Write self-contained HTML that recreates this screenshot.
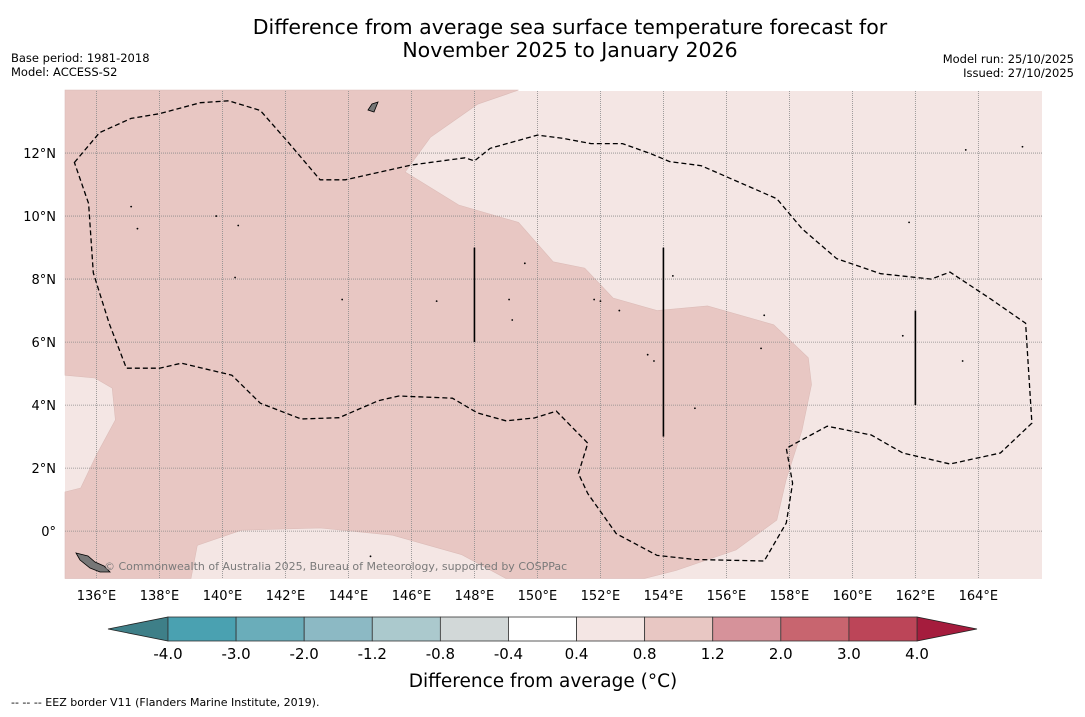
<!DOCTYPE html>
<html><head><meta charset="utf-8"><style>
body{margin:0;background:#fff;width:1085px;height:713px;overflow:hidden;font-family:"DejaVu Sans","Liberation Sans",sans-serif}
</style></head><body>
<svg id="chart" width="1085" height="713" xmlns="http://www.w3.org/2000/svg" font-family="DejaVu Sans, Liberation Sans, sans-serif">
<text x="570" y="34" font-size="20.5" text-anchor="middle">Difference from average sea surface temperature forecast for</text>
<text x="570" y="57" font-size="20.5" text-anchor="middle">November 2025 to January 2026</text>
<text x="11" y="62" font-size="11.5">Base period: 1981-2018</text>
<text x="11" y="76" font-size="11.5">Model: ACCESS-S2</text>
<text x="1074" y="63" font-size="11.5" text-anchor="end">Model run: 25/10/2025</text>
<text x="1074" y="77" font-size="11.5" text-anchor="end">Issued: 27/10/2025</text>
<g id="map"></g>
<g id="cbar"></g>
<text x="543" y="687" font-size="18.5" text-anchor="middle">Difference from average (°C)</text>
<text x="11" y="706" font-size="11">--  --  -- EEZ border V11 (Flanders Marine Institute, 2019).</text>
</svg>
<script>
const lonTicks=[136,138,140,142,144,146,148,150,152,154,156,158,160,162,164];
const latTicks=[0,2,4,6,8,10,12];
const levels=[-4.0,-3.0,-2.0,-1.2,-0.8,-0.4,0.4,0.8,1.2,2.0,3.0,4.0];
const levelColors=["#4aa1b1","#6aadba","#8cb9c4","#abc9cd","#d2d8d8","#ffffff","#f4e6e4","#e8c7c3","#d6929a","#c8656f","#bc4558"];
const lowExtendColor="#3e7f88", highExtendColor="#a51c3d";
const warmRegion=[[135,14],[149.4,14],[148.1,13.55],[146.6,12.5],[145.8,11.4],[147.5,10.35],[149.4,9.8],[150.5,8.55],[151.5,8.35],[152.4,7.4],[153.8,7.0],[155.4,7.15],[157.5,6.55],[158.6,5.5],[158.7,4.65],[158.4,3.2],[157.9,1.65],[157.6,0.35],[156.3,-0.6],[154.4,-1.25],[153.4,-1.5],[149,-1.5],[147.6,-0.75],[145.4,-0.13],[143.1,0.1],[140.6,0.03],[139.2,-0.45],[139,-1.5],[135,-1.5],[135,1.24],[135.5,1.37],[136,2.42],[136.6,3.53],[136.5,4.54],[135.95,4.86],[135,4.95]];
const eez=[[135.3,11.7],[136.1,12.65],[137.1,13.1],[138,13.25],[139.3,13.6],[140.2,13.66],[141.2,13.35],[142.1,12.33],[143.1,11.15],[143.9,11.15],[146,11.62],[147.7,11.85],[148,11.75],[148.5,12.15],[150,12.57],[150.8,12.47],[151.7,12.3],[152.7,12.3],[153.6,11.98],[154.2,11.73],[155.2,11.6],[156.5,11.03],[157.6,10.55],[158.4,9.6],[159.5,8.65],[160.9,8.17],[162.5,8.0],[163.1,8.22],[164.4,7.36],[165.5,6.6],[165.7,3.43],[164.7,2.48],[163.1,2.13],[161.6,2.48],[160.6,3.05],[159.2,3.33],[157.9,2.63],[158.1,1.52],[157.9,0.26],[157.2,-0.95],[155,-0.9],[153.8,-0.77],[152.5,-0.08],[151.6,1.19],[151.3,1.83],[151.6,2.79],[150.6,3.81],[149.9,3.59],[149,3.5],[148.1,3.75],[147.3,4.22],[145.6,4.29],[144.95,4.14],[143.7,3.6],[142.5,3.56],[141.2,4.06],[140.3,4.95],[138.7,5.33],[138,5.17],[136.95,5.17],[136.4,6.6],[135.9,8.2],[135.75,10.4]];
const islandPts=[[137.3,9.6],[139.8,10.0],[140.5,9.7],[140.4,8.05],[143.8,7.35],[146.8,7.3],[149.1,7.35],[149.6,8.5],[149.2,6.7],[151.8,7.35],[152,7.3],[152.6,7.0],[153.5,5.6],[153.7,5.4],[154.3,8.1],[157.2,6.85],[161.8,9.8],[161.6,6.2],[163.5,5.4],[163.6,12.1],[165.4,12.2],[157.1,5.8],[155,3.9],[144.7,-0.8],[137.1,10.3]];
const zeroLines=[[148,6,9],[154,3,9],[162,4,7]];
const lon0=135,lon1=166.02,lat0=-1.52,lat1=13.97;
const X0=65,X1=1042,Y0=91,Y1=579;
const xs=l=>X0+(l-lon0)/(lon1-lon0)*(X1-X0);
const ys=l=>Y1-(l-lat0)/(lat1-lat0)*(Y1-Y0);
const NS="http://www.w3.org/2000/svg";
function mk(t,p,a){const e=document.createElementNS(NS,t);for(const k in a)e.setAttribute(k,a[k]);p.appendChild(e);return e;}
const map=document.getElementById('map');
const bg=mk('rect',map,{x:X0,y:Y0,width:X1-X0,height:Y1-Y0,fill:levelColors[6]});


const pts=a=>a.map(p=>xs(p[0]).toFixed(1)+','+ys(p[1]).toFixed(1)).join(' ');
const wr=mk('polygon',map,{points:pts(warmRegion),fill:levelColors[7],stroke:"#dcbcb8","stroke-width":0.6});


lonTicks.forEach(l=>{
 const g=mk('line',map,{x1:xs(l),x2:xs(l),y1:Y0,y2:Y1,stroke:"#8a8a8a","stroke-width":0.8,"stroke-dasharray":"1,1"});
 
 
 const t=mk('text',map,{x:xs(l),y:600,"font-size":13,"text-anchor":"middle"});t.textContent=l+'°E';
 
 
});
latTicks.forEach(l=>{
 const g=mk('line',map,{x1:X0,x2:X1,y1:ys(l),y2:ys(l),stroke:"#8a8a8a","stroke-width":0.8,"stroke-dasharray":"1,1"});
 
 
 const t=mk('text',map,{x:56,y:ys(l)+5,"font-size":13,"text-anchor":"end"});t.textContent=l===0?'0°':l+'°N';
 
 
});
const ez=mk('polygon',map,{points:pts(eez),fill:"none",stroke:"#000","stroke-width":1.3,"stroke-dasharray":"5,3"});


zeroLines.forEach(z=>{const l=mk('line',map,{x1:xs(z[0]),x2:xs(z[0]),y1:ys(z[2]),y2:ys(z[1]),stroke:"#000","stroke-width":1.6});
 
 });
islandPts.forEach(p=>{const c=mk('circle',map,{cx:xs(p[0]),cy:ys(p[1]),r:0.9,fill:"#000"});
 
 });
const ng=mk('polygon',map,{points:"76,553 88,556 95,562 104,566 110,572 100,572 90,568 80,560",fill:"#777",stroke:"#000","stroke-width":0.8});


const ng2=mk('polygon',map,{points:"368,110 372,104 378,102 374,112",fill:"#777",stroke:"#000","stroke-width":0.8});


const cp=mk('text',map,{x:104,y:570,"font-size":11,fill:"#7a7a7a"});cp.textContent='© Commonwealth of Australia 2025, Bureau of Meteorology, supported by COSPPac';


const cb=document.getElementById('cbar');
const CB0=168,CB1=917,CY=617,CH=24,n=levelColors.length,w=(CB1-CB0)/n;
const lt=mk('polygon',cb,{points:`${CB0},${CY} ${CB0},${CY+CH} 108,${CY+CH/2}`,fill:lowExtendColor,stroke:"#222","stroke-width":0.8});


const rt=mk('polygon',cb,{points:`${CB1},${CY} ${CB1},${CY+CH} 977,${CY+CH/2}`,fill:highExtendColor,stroke:"#222","stroke-width":0.8});


levelColors.forEach((c,i)=>{const r=mk('rect',cb,{x:CB0+i*w,y:CY,width:w,height:CH,fill:c,stroke:"#333","stroke-width":0.8});
 
 });
levels.forEach((v,i)=>{const t=mk('text',cb,{x:CB0+i*w,y:659,"font-size":15,"text-anchor":"middle"});t.textContent=v.toFixed(1);
 
 });
</script>
</body></html>
